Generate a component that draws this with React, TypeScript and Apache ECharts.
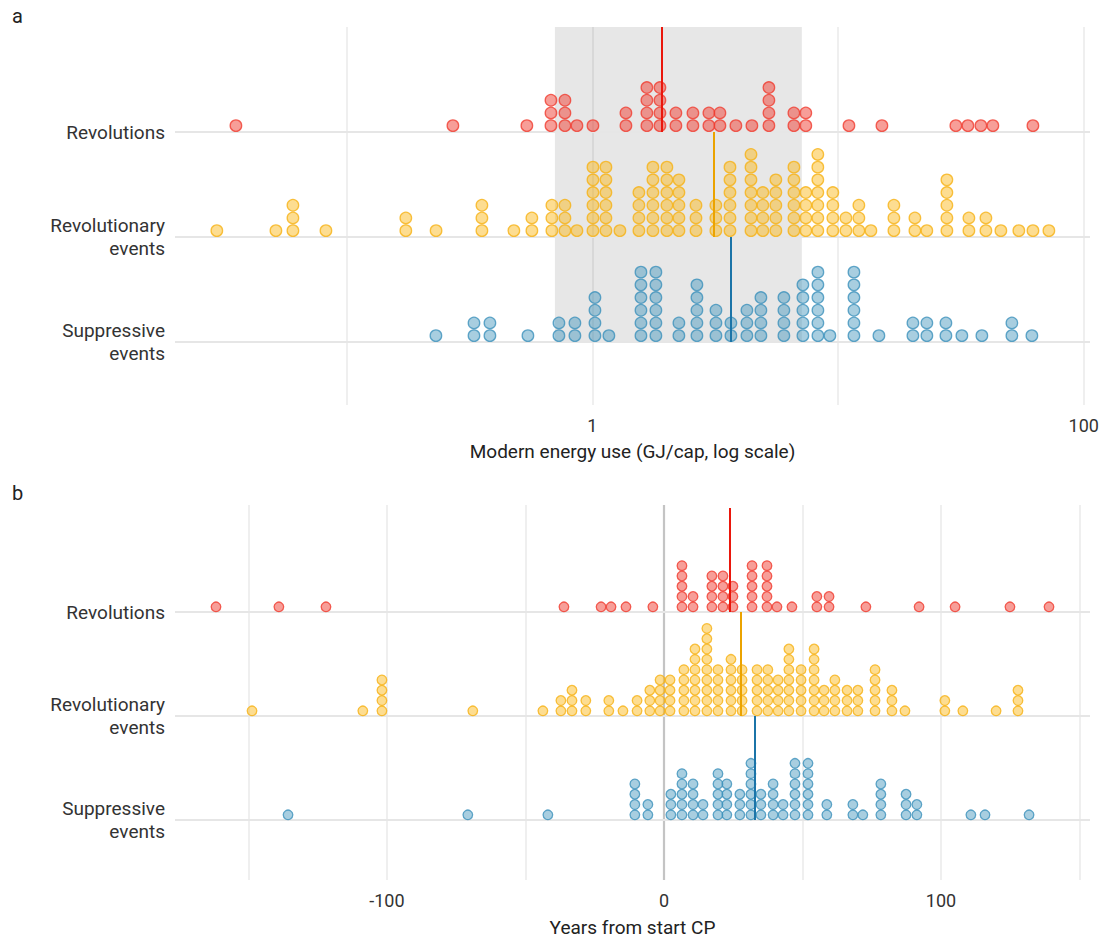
import React, { useEffect, useRef } from "react";
import * as echarts from "echarts";

// Rows (bottom to top)
const rowLevels = [1, 2, 3];
const rowNames = ["Suppressive\nevents", "Revolutionary\nevents", "Revolutions"];

// ---- Panel a: modern energy use (GJ/cap), [value, dots stacked in the bin]
const revolutionsA = [
  [0.0354, 1], [0.2705, 1], [0.541, 1], [0.678, 3], [0.773, 3], [0.865, 1], [1.005, 1],
  [1.369, 2], [1.666, 4], [1.883, 4], [2.187, 2], [2.565, 2], [2.979, 2], [3.304, 2],
  [3.837, 1], [4.458, 1], [5.228, 4], [6.607, 2], [7.39, 2], [11.07, 1], [15.08, 1],
  [30.15, 1], [33.75, 1], [38.12, 1], [42.66, 1], [62.08, 1],
];
const revEventsA = [
  [0.0296, 1], [0.0515, 1], [0.0604, 3], [0.0823, 1], [0.174, 2], [0.231, 1], [0.355, 3],
  [0.479, 1], [0.567, 2], [0.684, 3], [0.773, 3], [0.865, 1], [1.005, 6], [1.135, 6],
  [1.294, 1], [1.546, 4], [1.763, 6], [2.01, 6], [2.25, 5], [2.64, 3], [3.18, 3],
  [3.63, 6], [4.42, 7], [4.94, 4], [5.58, 5], [6.61, 6], [7.39, 4], [8.27, 7], [9.52, 4],
  [10.76, 2], [12.15, 3], [13.6, 1], [16.87, 3], [20.54, 2], [22.97, 1], [27.72, 5],
  [34.07, 2], [39.96, 2], [45.98, 1], [54.4, 1], [62.1, 1], [72.1, 1],
];
const suppressiveA = [
  [0.2307, 1], [0.3296, 2], [0.3827, 2], [0.5464, 1], [0.7307, 2], [0.8487, 2], [1.024, 4],
  [1.167, 1], [1.576, 6], [1.813, 6], [2.249, 2], [2.663, 5], [3.183, 3], [3.662, 2],
  [4.254, 3], [4.851, 4], [6.017, 4], [7.19, 5], [8.276, 6], [9.26, 1], [11.6, 6],
  [14.66, 1], [20.16, 2], [22.98, 2], [27.47, 2], [31.9, 1], [38.48, 1], [50.98, 2],
  [61.49, 1],
];
// medians: suppressive, revolutionary events, revolutions
const mediansA = [3.66, 3.12, 1.918];
const shadeA = [0.7035, 7.12];
const gridTicksA = [0.1, 1, 10, 100];
const tickLabelsA = [1, 100];
const rangeA = [0.02, 106];

// ---- Panel b: years from start CP
const revolutionsB = [
  [-161.7, 1], [-139.0, 1], [-122.0, 1], [-36.1, 1], [-22.7, 1], [-19.1, 1], [-13.7, 1],
  [-4.0, 1], [6.5, 5], [10.5, 2], [17.3, 4], [21.3, 4], [24.9, 3], [31.8, 5], [37.2, 5],
  [40.8, 1], [46.2, 1], [55.2, 2], [59.6, 2], [72.9, 1], [92.1, 1], [105.1, 1],
  [124.9, 1], [139.0, 1],
];
const revEventsB = [
  [-148.7, 1], [-108.7, 1], [-101.8, 4], [-69.0, 1], [-43.7, 1], [-37.2, 2], [-33.2, 3],
  [-28.2, 2], [-19.9, 2], [-14.8, 1], [-9.7, 2], [-5.1, 3], [-1.4, 4], [2.2, 4], [7.2, 5],
  [11.2, 7], [15.5, 9], [19.5, 5], [24.2, 6], [28.2, 5], [33.6, 5], [37.5, 5], [41.2, 4],
  [45.1, 7], [49.5, 5], [54.2, 7], [57.8, 3], [61.7, 4], [66.1, 3], [70.0, 3], [76.2, 5],
  [82.3, 3], [87.0, 1], [101.4, 2], [107.9, 1], [119.9, 1], [127.8, 3],
];
const suppressiveB = [
  [-135.7, 1], [-70.8, 1], [-41.9, 1], [-10.5, 4], [-5.8, 2], [2.5, 3], [6.5, 5], [10.5, 4],
  [14.1, 2], [19.5, 5], [22.7, 4], [27.4, 3], [31.4, 6], [35.0, 3], [39.4, 4], [43.0, 2],
  [47.3, 6], [52.0, 6], [58.8, 2], [68.2, 2], [71.8, 1], [78.3, 4], [87.4, 3], [91.3, 2],
  [110.8, 1], [115.9, 1], [131.8, 1],
];
const mediansB = [32.9, 27.8, 23.8];
const gridTicksB = [-150, -100, -50, 0, 50, 100, 150];
const tickLabelsB = [-100, 0, 100];
const zeroLineB = 0;
const rangeB = [-176.5, 153.8];

const FONT = "Roboto";
const TEXT = "#333333";
const GRID_COLOR = "#ebebeb";

const palette = [
  { fill: "rgba(70,150,190,0.47)", stroke: "rgba(60,145,188,0.8)", line: "#1b74a8" },
  { fill: "rgba(250,182,22,0.47)", stroke: "rgba(246,178,20,0.8)", line: "#eba300" },
  { fill: "rgba(240,62,50,0.5)", stroke: "rgba(240,60,48,0.8)", line: "#ea170c" },
];

function stackDots(pairs: number[][], row: number, step: number) {
  const out: number[][] = [];
  pairs.forEach(([v, n]) => {
    for (let k = 0; k < n; k++) out.push([v, row + (k + 0.5) * step]);
  });
  return out;
}

function near(list: number[], v: number) {
  return list.some((t) => Math.abs(t - v) < 1e-6 * Math.max(1, Math.abs(t)));
}

type PanelCfg = {
  idx: number;
  series: number[][][];
  medians: number[];
  gridTicks: number[];
  yMin: number;
  yMax: number;
  heightPx: number;
  stepPx: number;
  dotSize: number;
  shade?: number[];
  zero?: number;
};

function panelSeries(p: PanelCfg) {
  const pxPerUnit = p.heightPx / (p.yMax - p.yMin);
  const step = p.stepPx / pxPerUnit;
  const axes = { xAxisIndex: p.idx, yAxisIndex: p.idx };
  const out: any[] = [];
  // vertical grid lines
  out.push({
    type: "scatter",
    ...axes,
    data: [],
    silent: true,
    markLine: {
      silent: true,
      z: 1,
      symbol: ["none", "none"],
      label: { show: false },
      lineStyle: { type: "solid", color: GRID_COLOR, width: 1.6 },
      data: p.gridTicks.map((t) =>
        p.zero !== undefined && t === p.zero
          ? { xAxis: t, lineStyle: { type: "solid", color: "#c4c4c4", width: 2.2 } }
          : { xAxis: t }
      ),
    },
  });
  if (p.shade) {
    out.push({
      type: "scatter",
      ...axes,
      data: [],
      silent: true,
      markArea: {
        silent: true,
        z: 2,
        itemStyle: { color: "rgba(0,0,0,0.095)" },
        data: [[{ coord: [p.shade[0], 1] }, { coord: [p.shade[1], p.yMax] }]],
      },
    });
  }
  // horizontal row lines
  out.push({
    type: "scatter",
    ...axes,
    data: [],
    silent: true,
    markLine: {
      silent: true,
      z: 3,
      symbol: ["none", "none"],
      label: { show: false },
      lineStyle: { type: "solid", color: "#e6e6e6", width: 2 },
      data: rowLevels.map((r) => ({ yAxis: r })),
    },
  });
  p.series.forEach((pairs, i) => {
    out.push({
      type: "scatter",
      ...axes,
      z: 4,
      silent: true,
      symbol: "circle",
      symbolSize: p.dotSize,
      itemStyle: {
        color: palette[i].fill,
        borderColor: palette[i].stroke,
        borderWidth: 1.3,
        opacity: 1,
      },
      data: stackDots(pairs, rowLevels[i], step),
    });
  });
  out.push({
    type: "scatter",
    ...axes,
    data: [],
    silent: true,
    markLine: {
      silent: true,
      z: 5,
      symbol: ["none", "none"],
      label: { show: false },
      data: p.medians.map((m, i) => [
        { coord: [m, rowLevels[i]], lineStyle: { type: "solid", color: palette[i].line, width: 2 } },
        { coord: [m, rowLevels[i] + 1] },
      ]),
    },
  });
  return out;
}

function yAxisCfg(idx: number, min: number, max: number) {
  return {
    gridIndex: idx,
    type: "value",
    min,
    max,
    axisLine: { show: false },
    axisTick: { show: false },
    splitLine: { show: false },
    axisLabel: {
      customValues: rowLevels,
      formatter: (v: number) => {
        const i = rowLevels.findIndex((r) => Math.abs(r - v) < 1e-9);
        return i >= 0 ? rowNames[i] : "";
      },
      fontFamily: FONT,
      fontSize: 19,
      lineHeight: 23,
      color: TEXT,
      margin: 10,
    },
  };
}

function xAxisCfg(idx: number, type: string, range: number[], labels: number[], name: string, nameGap: number) {
  return {
    gridIndex: idx,
    type,
    ...(type === "log" ? { logBase: 10 } : {}),
    min: range[0],
    max: range[1],
    axisLine: { show: false },
    axisTick: { show: false },
    splitLine: { show: false },
    axisLabel: {
      formatter: (v: number) => (near(labels, v) ? String(Math.round(v)) : ""),
      showMinLabel: false,
      showMaxLabel: false,
      fontFamily: FONT,
      fontSize: 18,
      color: TEXT,
      margin: 11,
    },
    name,
    nameLocation: "middle",
    nameGap,
    nameTextStyle: { fontFamily: FONT, fontSize: 19, color: "#222" },
  };
}

export default function App() {
  const ref = useRef<HTMLDivElement>(null);
  useEffect(() => {
    if (!ref.current) return;
    const chart = echarts.init(ref.current, undefined, { renderer: "svg" });
    const yMinA = 0.4, yMaxA = 4.0, hA = 378;
    const yMinB = 0.423, yMaxB = 4.029, hB = 375;
    const option: any = {
      animation: false,
      backgroundColor: "#ffffff",
      textStyle: { fontFamily: FONT },
      graphic: [
        { type: "text", left: 12, top: 6, style: { text: "a", fontSize: 20, fontFamily: FONT, fill: "#222" } },
        { type: "text", left: 12, top: 483, style: { text: "b", fontSize: 20, fontFamily: FONT, fill: "#222" } },
      ],
      grid: [
        { left: 175, right: 12, top: 27, height: hA, outerBoundsMode: "none" },
        { left: 175, right: 12, top: 505, height: hB, outerBoundsMode: "none" },
      ],
      xAxis: [
        xAxisCfg(0, "log", rangeA, tickLabelsA, "Modern energy use (GJ/cap, log scale)", 37),
        xAxisCfg(1, "value", rangeB, tickLabelsB, "Years from start CP", 38),
      ],
      yAxis: [yAxisCfg(0, yMinA, yMaxA), yAxisCfg(1, yMinB, yMaxB)],
      series: [
        ...panelSeries({
          idx: 0,
          series: [suppressiveA, revEventsA, revolutionsA],
          medians: mediansA,
          gridTicks: gridTicksA,
          yMin: yMinA,
          yMax: yMaxA,
          heightPx: hA,
          stepPx: 12.7,
          dotSize: 11.5,
          shade: shadeA,
        }),
        ...panelSeries({
          idx: 1,
          series: [suppressiveB, revEventsB, revolutionsB],
          medians: mediansB,
          gridTicks: gridTicksB,
          yMin: yMinB,
          yMax: yMaxB,
          heightPx: hB,
          stepPx: 10.3,
          dotSize: 9.6,
          zero: zeroLineB,
        }),
      ],
    };
    chart.setOption(option);
    return () => chart.dispose();
  }, []);
  return (
    <div
      ref={ref}
      style={{ position: "fixed", left: 0, top: 0, width: 1102, height: 941, background: "#fff" }}
    />
  );
}
